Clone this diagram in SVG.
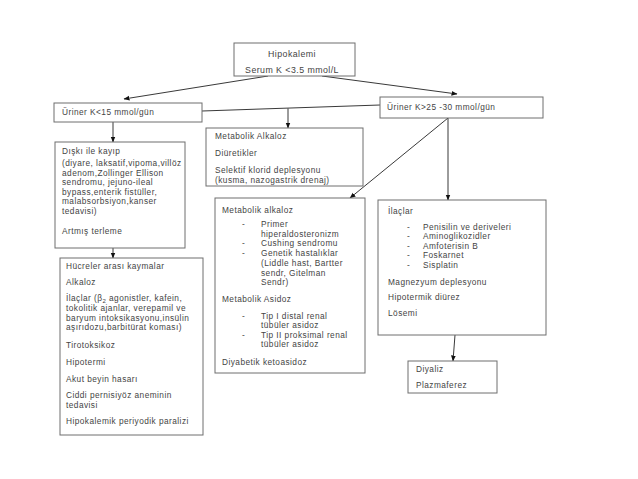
<svg xmlns="http://www.w3.org/2000/svg" width="638" height="479" viewBox="0 0 638 479">
<style>
rect.box{fill:#fff;stroke:#6e6e6e;stroke-width:1}
text{font-family:"Liberation Sans",Arial,sans-serif;font-size:8.3px;fill:#444;letter-spacing:0.45px}
.t{font-size:8.8px}
line.c{stroke:#222;stroke-width:0.9}
</style>
<defs>
<marker id="ah" markerWidth="6" markerHeight="6" refX="5.5" refY="3" orient="auto" markerUnits="userSpaceOnUse">
<path d="M0,0.6 L6,3 L0,5.4 z" fill="#111"/>
</marker>
</defs>
<rect width="638" height="479" fill="#fff"/>
<g id="connectors">
<line class="c" x1="268" y1="76" x2="124" y2="99" marker-end="url(#ah)"/>
<line class="c" x1="322" y1="76" x2="457" y2="94" marker-end="url(#ah)"/>
<line class="c" x1="202" y1="111" x2="380" y2="105"/>
<line class="c" x1="288" y1="108.5" x2="288" y2="128" marker-end="url(#ah)"/>
<line class="c" x1="113" y1="122" x2="113" y2="142" marker-end="url(#ah)"/>
<line class="c" x1="113" y1="248" x2="113" y2="258" marker-end="url(#ah)"/>
<line class="c" x1="448" y1="118" x2="448" y2="200" marker-end="url(#ah)"/>
<line class="c" x1="448" y1="118" x2="350" y2="198" marker-end="url(#ah)"/>
<line class="c" x1="455" y1="335" x2="453" y2="361" marker-end="url(#ah)"/>
</g>
<g id="hipokalemi">
<rect class="box" x="234" y="43" width="121" height="33"/>
<text class="t" x="292" y="57" text-anchor="middle">Hipokalemi</text>
<text class="t" x="292" y="73" text-anchor="middle">Serum K &lt;3.5 mmol/L</text>
</g>
<g id="uriner-low">
<rect class="box" x="54" y="103" width="148" height="19"/>
<text x="62" y="115">Üriner K&lt;15 mmol/gün</text>
</g>
<g id="uriner-high">
<rect class="box" x="380" y="97" width="163" height="21"/>
<text x="387" y="110">Üriner K&gt;25 -30 mmol/gün</text>
</g>
<g id="diski">
<rect class="box" x="55" y="142" width="130" height="106"/>
<text x="62" y="154">Dışkı ile kayıp</text>
<text x="62" y="166">(diyare, laksatif,vipoma,villöz</text>
<text x="62" y="175.5">adenom,Zollinger Ellison</text>
<text x="62" y="185">sendromu, jejuno-ileal</text>
<text x="62" y="194.5">bypass,enterik fistüller,</text>
<text x="62" y="204">malabsorbsiyon,kanser</text>
<text x="62" y="213.5">tedavisi)</text>
<text x="62" y="234">Artmış terleme</text>
</g>
<g id="hucreler">
<rect class="box" x="60" y="258" width="143" height="177"/>
<text x="66" y="269">Hücreler arası kaymalar</text>
<text x="66" y="285">Alkaloz</text>
<text x="66" y="301">İlaçlar (β<tspan font-size="6" dy="2">2</tspan><tspan dy="-2"> agonistler, kafein,</tspan></text>
<text x="66" y="311">tokolitik ajanlar, verepamil ve</text>
<text x="66" y="320.5">baryum intoksikasyonu,insülin</text>
<text x="66" y="330">aşırıdozu,barbitürat koması)</text>
<text x="66" y="348">Tirotoksikoz</text>
<text x="66" y="365">Hipotermi</text>
<text x="66" y="382">Akut beyin hasarı</text>
<text x="66" y="398">Ciddi pernisiyöz aneminin</text>
<text x="66" y="407.5">tedavisi</text>
<text x="66" y="424">Hipokalemik periyodik paralizi</text>
</g>
<g id="metabolik-alkaloz-1">
<rect class="box" x="206" y="128" width="157" height="58"/>
<text x="215" y="139">Metabolik Alkaloz</text>
<text x="215" y="156">Diüretikler</text>
<text x="215" y="173">Selektif klorid deplesyonu</text>
<text x="215" y="183">(kusma, nazogastrik drenaj)</text>
</g>
<g id="metabolik-alkaloz-2">
<rect class="box" x="215" y="198" width="150" height="175"/>
<text x="222" y="213">Metabolik alkaloz</text>
<text x="242" y="227">-</text><text x="261" y="227">Primer</text>
<text x="261" y="237">hiperaldosteronizm</text>
<text x="242" y="246">-</text><text x="261" y="246">Cushing sendromu</text>
<text x="242" y="256">-</text><text x="261" y="256">Genetik hastalıklar</text>
<text x="261" y="266">(Liddle hast, Bartter</text>
<text x="261" y="276">sendr, Gitelman</text>
<text x="261" y="285">Sendr)</text>
<text x="222" y="302">Metabolik Asidoz</text>
<text x="242" y="319">-</text><text x="261" y="319">Tip I distal renal</text>
<text x="261" y="328">tübüler asidoz</text>
<text x="242" y="338">-</text><text x="261" y="338">Tip II proksimal renal</text>
<text x="261" y="347">tübüler asidoz</text>
<text x="222" y="365">Diyabetik ketoasidoz</text>
</g>
<g id="ilaclar">
<rect class="box" x="378" y="200" width="168" height="135"/>
<text x="388" y="214">İlaçlar</text>
<text x="407" y="230">-</text><text x="423" y="230">Penisilin ve deriveleri</text>
<text x="407" y="239">-</text><text x="423" y="239">Aminoglikozidler</text>
<text x="407" y="248.5">-</text><text x="423" y="248.5">Amfoterisin B</text>
<text x="407" y="258">-</text><text x="423" y="258">Foskarnet</text>
<text x="407" y="267.5">-</text><text x="423" y="267.5">Sisplatin</text>
<text x="388" y="285">Magnezyum deplesyonu</text>
<text x="388" y="300">Hipotermik diürez</text>
<text x="388" y="316">Lösemi</text>
</g>
<g id="diyaliz">
<rect class="box" x="408" y="361" width="89" height="32"/>
<text x="416" y="372">Diyaliz</text>
<text x="416" y="388">Plazmaferez</text>
</g>
</svg>
